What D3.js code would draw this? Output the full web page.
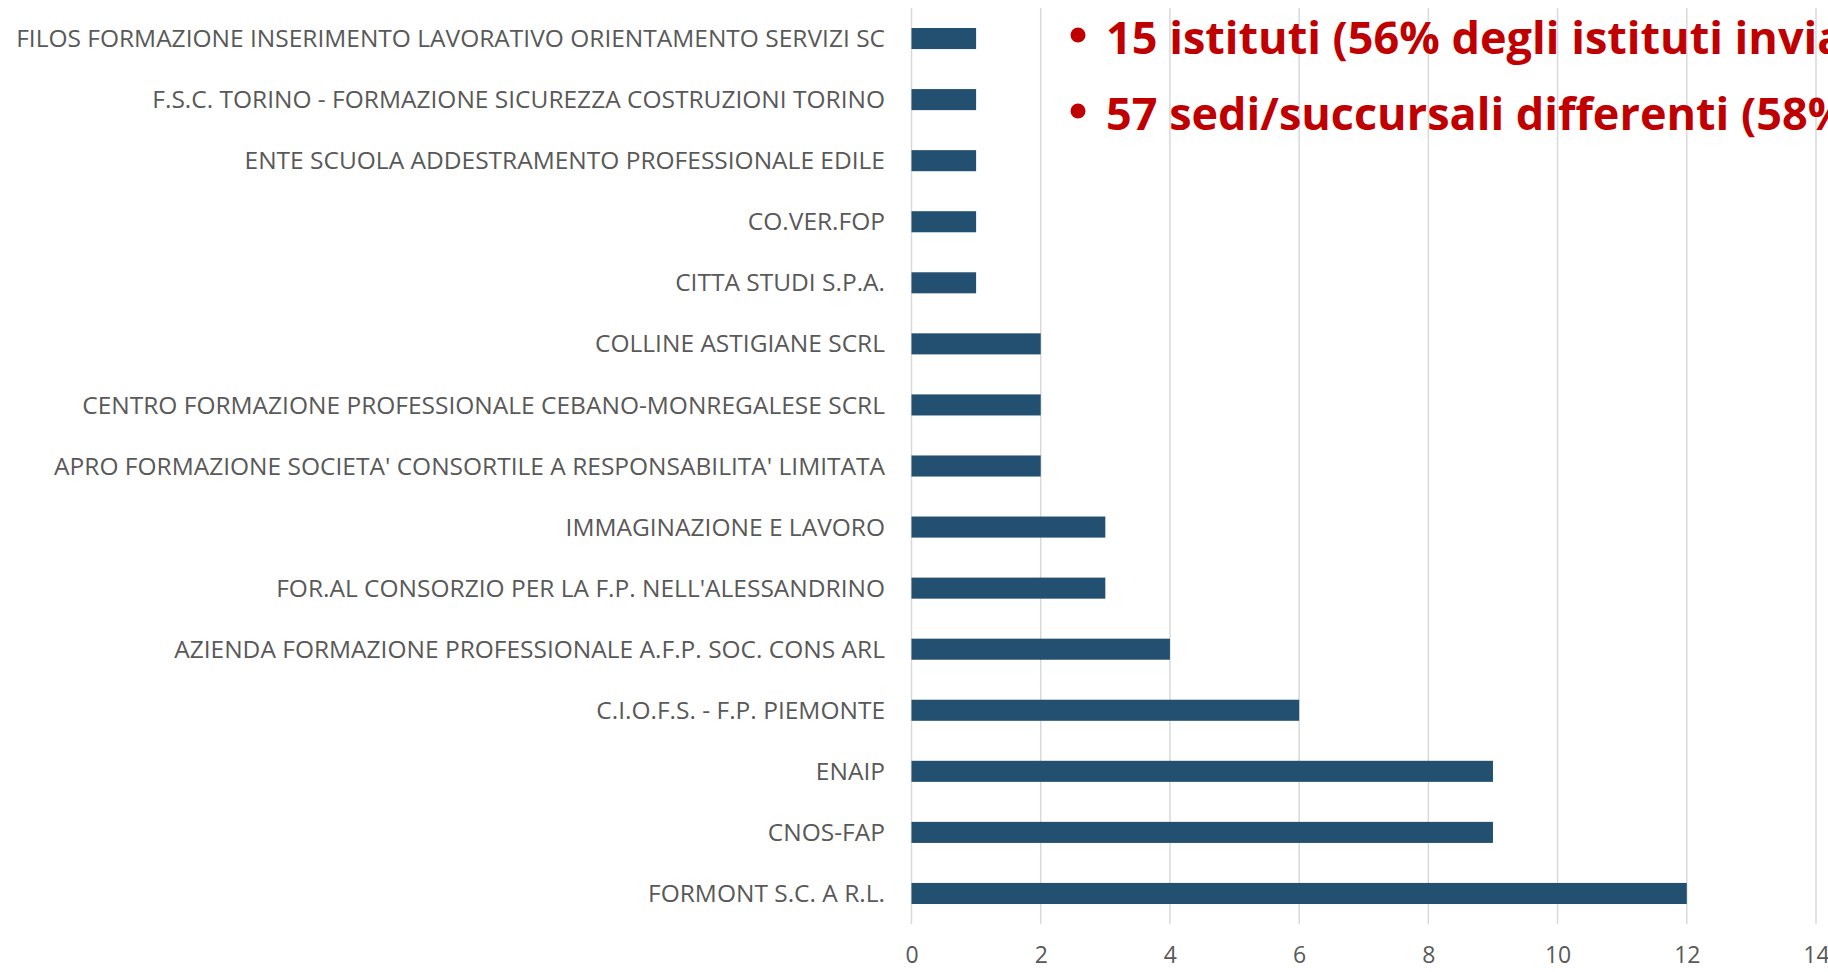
<!DOCTYPE html>
<html>
<head>
<meta charset="utf-8">
<script src="https://cdn.jsdelivr.net/npm/d3@7"></script>
<style>
  html, body { margin: 0; padding: 0; background: #fff; overflow: hidden; }
  svg { display: block; }
</style>
</head>
<body>
<svg id="chart" width="1828" height="972"></svg>
<script>
// Data (top to bottom as shown)
const categories = [
  "FILOS FORMAZIONE INSERIMENTO LAVORATIVO ORIENTAMENTO SERVIZI SC",
  "F.S.C. TORINO - FORMAZIONE SICUREZZA COSTRUZIONI TORINO",
  "ENTE SCUOLA ADDESTRAMENTO PROFESSIONALE EDILE",
  "CO.VER.FOP",
  "CITTA STUDI S.P.A.",
  "COLLINE ASTIGIANE SCRL",
  "CENTRO FORMAZIONE PROFESSIONALE CEBANO-MONREGALESE SCRL",
  "APRO FORMAZIONE SOCIETA' CONSORTILE A RESPONSABILITA' LIMITATA",
  "IMMAGINAZIONE E LAVORO",
  "FOR.AL CONSORZIO PER LA F.P. NELL'ALESSANDRINO",
  "AZIENDA FORMAZIONE PROFESSIONALE A.F.P. SOC. CONS ARL",
  "C.I.O.F.S. - F.P. PIEMONTE",
  "ENAIP",
  "CNOS-FAP",
  "FORMONT S.C. A R.L."
];
const values = [1, 1, 1, 1, 1, 2, 2, 2, 3, 3, 4, 6, 9, 9, 12];
const xTicks = [0, 2, 4, 6, 8, 10, 12, 14];
const notes = [
  "15 istituti (56% degli istituti invia",
  "57 sedi/succursali differenti (58%"
];

const svg = d3.select("#chart");

const x = d3.scaleLinear().domain([0, 14]).range([911.5, 1816]);
const y = d3.scaleBand().domain(categories).range([8, 924])
  .paddingInner(0.655).paddingOuter(0.3275);

// gridlines
svg.append("g")
  .selectAll("line")
  .data(xTicks)
  .join("line")
  .attr("x1", d => x(d)).attr("x2", d => x(d))
  .attr("y1", 8).attr("y2", 924)
  .attr("stroke", "#d9d9d9")
  .attr("stroke-width", 1.5);

// bars
svg.append("g")
  .selectAll("rect")
  .data(values)
  .join("rect")
  .attr("x", x(0))
  .attr("y", (d, i) => y(categories[i]))
  .attr("width", d => x(d) - x(0))
  .attr("height", y.bandwidth())
  .attr("fill", "#235070");

// category labels
const labelFont = "'Open Sans', sans-serif";
svg.append("g")
  .selectAll("text")
  .data(categories)
  .join("text")
  .attr("x", 885)
  .attr("y", d => y(d) + y.bandwidth() / 2)
  .attr("dy", "0.35em")
  .attr("text-anchor", "end")
  .attr("font-family", labelFont)
  .attr("font-size", 24.5)
  .attr("fill", "#595959")
  .text(d => d);

// x axis tick labels
const xAxis = d3.axisBottom(x).tickValues(xTicks).tickSize(0).tickPadding(0);
const gx = svg.append("g").attr("transform", "translate(0,947)").call(xAxis);
gx.select(".domain").remove();
gx.selectAll("text")
  .attr("font-family", labelFont)
  .attr("font-size", 23)
  .attr("fill", "#595959");

// annotation text
const noteG = svg.append("g");
const noteY = [54, 130];
notes.forEach((t, i) => {
  const yy = noteY[i];
  noteG.append("circle")
    .attr("cx", 1078).attr("cy", yy - 19).attr("r", 7.5)
    .attr("fill", "#c00000");
  noteG.append("text")
    .attr("x", 1106).attr("y", yy)
    .attr("font-family", "'Open Sans', sans-serif")
    .attr("font-weight", "bold")
    .attr("font-size", 45)
    .attr("fill", "#c00000")
    .text(t);
});
</script>
</body>
</html>
